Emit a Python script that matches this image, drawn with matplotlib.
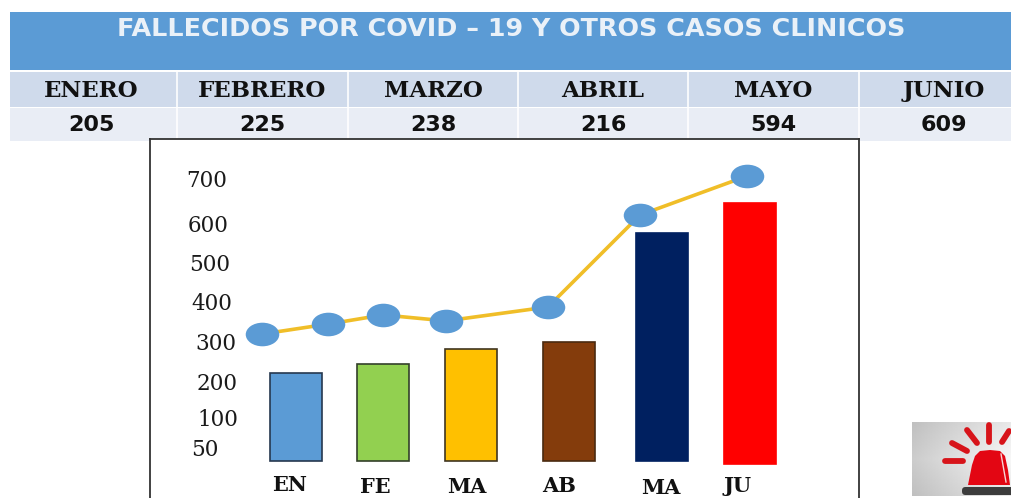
import numpy as np
import matplotlib
matplotlib.use("Agg")
import matplotlib.pyplot as plt
from matplotlib.patches import Rectangle, Polygon, FancyBboxPatch
from matplotlib.markers import MarkerStyle
from matplotlib.transforms import Affine2D

# data
title = "FALLECIDOS POR COVID – 19 Y OTROS CASOS CLINICOS"
months = ["ENERO", "FEBRERO", "MARZO", "ABRIL", "MAYO", "JUNIO"]
month_values = ["205", "225", "238", "216", "594", "609"]
bar_labels = ["EN", "FE", "MA", "AB", "MA", "JU"]
bar_values = [221, 244, 281, 299, 573, 648]
line_values = [319, 344, 367, 352, 387, 618, 716]
y_tick_labels = ["700", "600", "500", "400", "300", "200", "100", "50"]

# layout and style
W, H = 1012, 498
bar_x = [296, 383, 471, 569, 662, 750]
bar_base = [0, 0, 0, 0, 0, -8]
line_x = [262, 328, 383, 446, 548, 640, 747]
bar_colors = ["#5B9BD5", "#92D050", "#FFC000", "#843C0C", "#002060", "#FF0000"]
bar_edges = ["#26384f", "#33402a", "#3f3520", "#4a2a10", "#002060", "#FF0000"]
bar_label_px = [(290, 485), (375, 487), (467, 487), (559, 486), (661, 488), (738, 486)]
tick_px = [(207, 181), (208, 226), (210, 265), (212, 304), (216, 344), (217, 384), (218, 420), (205, 450)]
col_edges = [10, 177, 348, 518, 688, 859, 1012]
col_centers = [91, 262, 433, 603, 773, 944]
SERIF = "DejaVu Serif"
SANS = "DejaVu Sans"

fig = plt.figure(figsize=(W / 100, H / 100), dpi=100)
bg = fig.add_axes([0, 0, 1, 1])
bg.set_xlim(0, W)
bg.set_ylim(H, 0)
bg.axis("off")

# table
bg.add_patch(Rectangle((10, 12), W - 10, 58, fc="#5B9BD5", ec="none"))
bg.add_patch(Rectangle((10, 72), W - 10, 35, fc="#CFDAEB", ec="none"))
bg.add_patch(Rectangle((10, 108), W - 10, 33, fc="#E9EDF5", ec="none"))
for x in col_edges[1:-1]:
    bg.plot([x, x], [72, 141], color="white", lw=1.2)
bg.text(511, 29, title, color="#EAF1F8", fontsize=18.3, fontweight="bold",
        family=SANS, ha="center", va="center")
for cx, m, v in zip(col_centers, months, month_values):
    bg.text(cx, 91, m, fontsize=16.5, fontweight="bold", family=SERIF,
            ha="center", va="center", color="#111111")
    bg.text(cx, 125, v, fontsize=16, fontweight="bold", family=SANS,
            ha="center", va="center", color="#111111")

# alarm icon
xg = np.linspace(0.80, 0.97, 64)[None, :]
yg = 1 - 0.06 * np.abs(np.linspace(-1, 1, 64))[:, None]
bg.imshow(np.clip(xg * yg, 0, 1), cmap="gray", vmin=0, vmax=1, extent=(912, 1012, 496, 422), aspect="auto", zorder=1)
bg.set_xlim(0, W)
bg.set_ylim(H, 0)
bg.add_patch(Polygon([(968, 485), (972, 465), (975, 456), (980, 451), (990, 450), (1000, 451), (1005, 456), (1008, 470), (1010, 485)],
                     fc="#E30613", ec="none", zorder=2))
bg.plot([1001, 1006], [454, 482], color="#F6D5D5", lw=1.0, zorder=3)
bg.add_patch(FancyBboxPatch((962, 487), 60, 8, boxstyle="round,pad=0,rounding_size=3.5", fc="#3c3c3c", ec="none", zorder=3))
for seg in [((945, 461), (963, 461)), ((952, 443), (967, 451)), ((967, 430), (977, 443)), ((989, 425), (989, 442)), ((1009, 431), (1002, 442))]:
    bg.plot([seg[0][0], seg[1][0]], [seg[0][1], seg[1][1]], color="#D7141A", lw=4.2, solid_capstyle="round", zorder=2)

# chart axes: frame runs past the bottom of the image
left, right, top, bottom = 150, 859, 139, 498
ax = fig.add_axes([left / W, 1 - bottom / H, (right - left) / W, (bottom - top) / H])
ax.set_xlim(left, right)
ppu = 0.398
ax.set_ylim(-(bottom - 461) / ppu, (461 - top) / ppu)
ax.set_facecolor("white")
for s in ["left", "right", "top"]:
    ax.spines[s].set_color("#333333")
    ax.spines[s].set_linewidth(1.3)
ax.spines["bottom"].set_visible(False)
ax.set_xticks([])
ax.set_yticks([])

heights = [v - b for v, b in zip(bar_values, bar_base)]
ax.bar(bar_x, heights, bottom=bar_base, width=52, color=bar_colors, edgecolor=bar_edges, linewidth=1.2, zorder=2)
ell = MarkerStyle("o", transform=Affine2D().scale(1.42, 1.0))
ax.plot(line_x, line_values, color="#F0BE28", lw=2.6, zorder=3, marker=ell, ms=17,
        mfc="#5B9BD5", mec="#5B9BD5", mew=0)

for (px, py), t in zip(tick_px, y_tick_labels):
    fig.text(px / W, 1 - py / H, t, fontsize=15.5, family=SERIF,
             ha="center", va="center", color="#1a1a1a", zorder=5)
for (px, py), t in zip(bar_label_px, bar_labels):
    fig.text(px / W, 1 - py / H, t, fontsize=15, fontweight="bold", family=SERIF,
             ha="center", va="center", color="#111111", zorder=5)

fig.savefig("out.png", dpi=100, facecolor="white")
